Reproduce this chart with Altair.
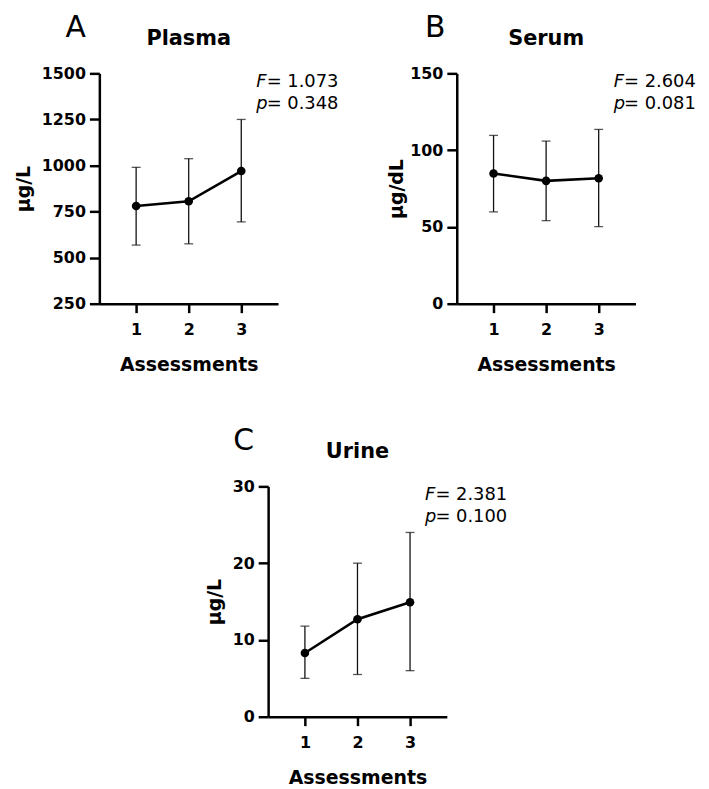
import altair as alt
import pandas as pd

# ---- data ----
assessments = [1, 2, 3]

plasma_mean = [780, 806, 970]
plasma_lo = [568, 575, 694]
plasma_hi = [990, 1037, 1250]

serum_mean = [84.8, 80.0, 81.7]
serum_lo = [59.8, 54.1, 50.2]
serum_hi = [109.6, 105.9, 113.5]

urine_mean = [8.3, 12.7, 14.9]
urine_lo = [5.0, 5.5, 6.0]
urine_hi = [11.8, 20.0, 24.0]

plasma_ticks = [250, 500, 750, 1000, 1250, 1500]
serum_ticks = [0, 50, 100, 150]
urine_ticks = [0, 10, 20, 30]

FONT = "DejaVu Sans"
W, H = 180, 232


def panel(letter, letter_x, title, mean, lo, hi, ydom, yticks, ytitle, fval, pval, ytp=8):
    df = pd.DataFrame({"a": assessments, "m": mean, "lo": lo, "hi": hi})
    xs = alt.Scale(domain=[0.3, 3.7], nice=False, zero=False)
    ys = alt.Scale(domain=ydom, nice=False, zero=False)
    xax = alt.Axis(values=assessments, format="d", title="Assessments",
                   tickSize=9, labelPadding=9, titlePadding=18)
    yax = alt.Axis(values=yticks, format="d", title=ytitle,
                   tickSize=10, labelPadding=4, titlePadding=ytp)
    base = alt.Chart(df)
    rules = base.mark_rule(color="#111111", strokeWidth=1.3).encode(
        x=alt.X("a:Q", scale=xs, axis=xax),
        y=alt.Y("lo:Q", scale=ys, axis=yax),
        y2="hi:Q",
    )
    cap_lo = base.mark_tick(orient="horizontal", size=9, thickness=1.3, color="#111111").encode(
        x="a:Q", y="lo:Q")
    cap_hi = base.mark_tick(orient="horizontal", size=9, thickness=1.3, color="#111111").encode(
        x="a:Q", y="hi:Q")
    line = base.mark_line(color="black", strokeWidth=2.6).encode(x="a:Q", y="m:Q")
    pts = base.mark_circle(color="black", opacity=1, size=75).encode(x="a:Q", y="m:Q")

    def txt(s, x, y, size, weight="normal", style="normal", align="left"):
        return alt.Chart(pd.DataFrame({"t": [s]})).mark_text(
            font=FONT, fontSize=size, fontWeight=weight, fontStyle=style,
            align=align, baseline="alphabetic", color="black",
        ).encode(text="t:N", x=alt.value(x), y=alt.value(y))

    texts = [
        txt(letter, letter_x, -37, 30),
        txt(title, W / 2, -29, 21, weight="bold", align="center"),
        txt("F", 158, 14, 18, style="italic"),
        txt("= " + fval, 168.5, 14, 18),
        txt("p", 158, 36, 18, style="italic"),
        txt("= " + pval, 168.5, 36, 18),
    ]
    return alt.layer(rules, cap_lo, cap_hi, line, pts, *texts).properties(width=W, height=H)


A = panel("A", -34, "Plasma", plasma_mean, plasma_lo, plasma_hi, [250, 1500], plasma_ticks,
          "µg/L", "1.073", "0.348")
B = panel("B", -32, "Serum", serum_mean, serum_lo, serum_hi, [0, 150], serum_ticks,
          "µg/dL", "2.604", "0.081", ytp=3)
C = panel("C", -35, "Urine", urine_mean, urine_lo, urine_hi, [0, 30], urine_ticks,
          "µg/L", "2.381", "0.100")

spacer = alt.Chart(pd.DataFrame({"s": [0]})).mark_point(opacity=0, size=1).encode(
    x=alt.value(0), y=alt.value(0)).properties(width=170, height=10)

top = alt.hconcat(A, B, spacing=180, bounds="flush")
bottom = alt.hconcat(spacer, C, spacing=0, bounds="flush")

chart = alt.vconcat(top, bottom, spacing=52, bounds="full").configure_view(
    stroke=None
).configure_axis(
    grid=False,
    domainColor="black", domainWidth=2.5,
    tickColor="black", tickWidth=2.5,
    labelFont=FONT, labelFontSize=16, labelFontWeight="bold", labelColor="black",
    titleFont=FONT, titleFontSize=19, titleFontWeight="bold", titleColor="black",
    labelFlush=False,
).properties(padding={"left": 6, "top": 2, "right": 5, "bottom": 5})

chart.save("out.html", embed_options={"renderer": "svg", "actions": False})
